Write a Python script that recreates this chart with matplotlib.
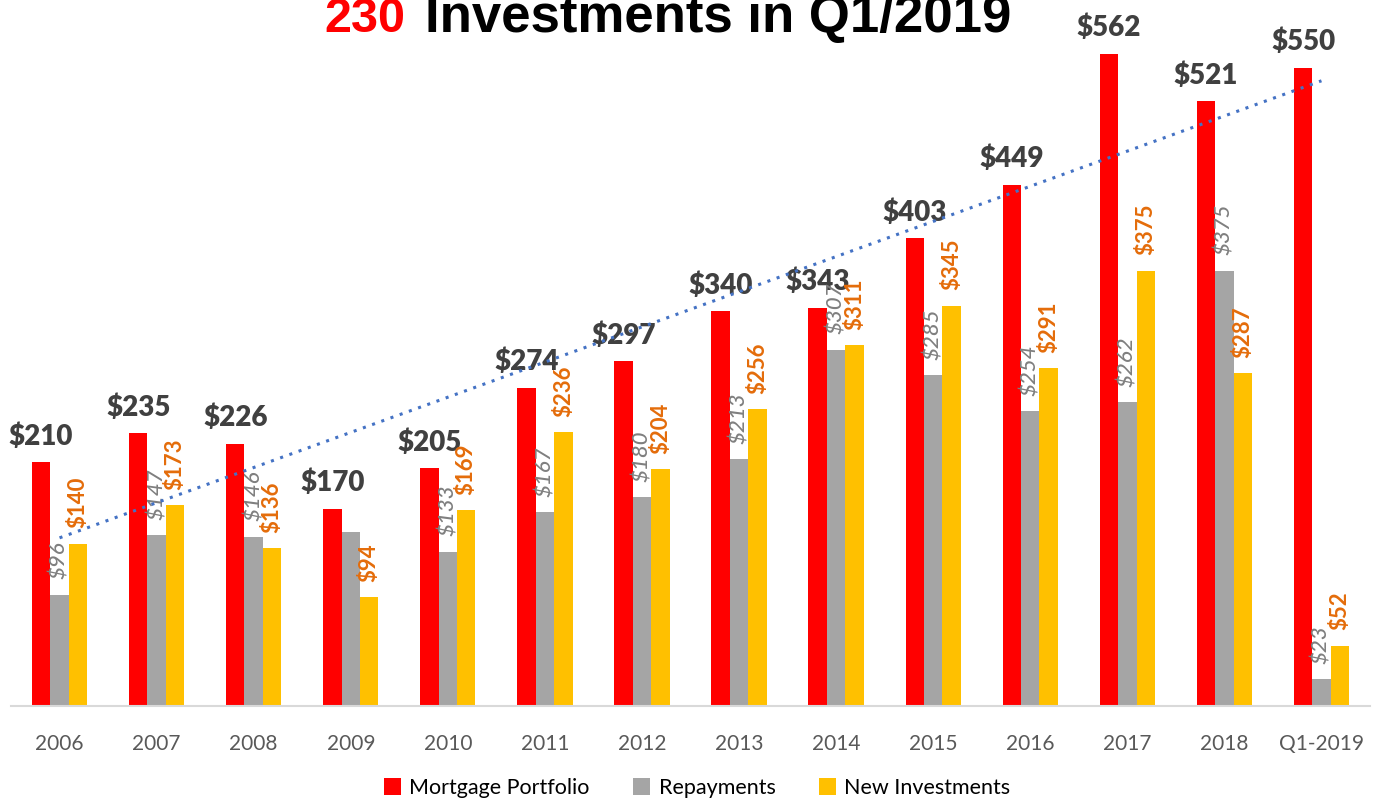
import numpy as np
import matplotlib
matplotlib.use('Agg')
import matplotlib.pyplot as plt

# dados
anos = ['2006', '2007', '2008', '2009', '2010', '2011', '2012', '2013',
        '2014', '2015', '2016', '2017', '2018', 'Q1-2019']
portfolio = [210, 235, 226, 170, 205, 274, 297, 340, 343, 403, 449, 562, 521, 550]
repayments = [96, 147, 146, 150, 133, 167, 180, 213, 307, 285, 254, 262, 375, 23]
novos = [140, 173, 136, 94, 169, 236, 204, 256, 311, 345, 291, 375, 287, 52]
# 2009 repayment label is not shown in the original
mostrar_rep = [True, True, True, False, True, True, True, True, True, True, True, True, True, True]

cor_vermelho = '#FF0000'
cor_cinza = '#A5A5A5'
cor_amarelo = '#FFC000'

fig = plt.figure(figsize=(13.88, 8.01), dpi=100)
ax = fig.add_axes([11 / 1388, (801 - 706) / 801, (1370 - 11) / 1388, 701 / 801])

x = np.arange(len(anos))
w = 0.19
b1 = ax.bar(x - w, portfolio, w, color=cor_vermelho, label='Mortgage Portfolio')
b2 = ax.bar(x, repayments, w, color=cor_cinza, label='Repayments')
b3 = ax.bar(x + w, novos, w, color=cor_amarelo, label='New Investments')

# linha de tendencia
coef = np.polyfit(x, portfolio, 1)
ax.plot(x, np.polyval(coef, x), linestyle=(0, (1, 2.2)), color='#4472C4',
        linewidth=2.2, zorder=5)

# rótulos
for xi, v in zip(x, portfolio):
    ax.annotate(f'${v}', (xi - w, v), xytext=(0, 9), textcoords='offset points',
                ha='center', va='bottom', fontsize=20, fontweight='heavy',
                color='#404040', family='Lato')
for xi, v, m in zip(x, repayments, mostrar_rep):
    if m:
        ax.annotate(f'${v}', (xi, v), xytext=(0, 11), textcoords='offset points',
                    ha='center', va='bottom', rotation=90, fontsize=16,
                    style='italic', fontweight='medium', color='#7F7F7F',
                    family='Lato')
for xi, v in zip(x, novos):
    ax.annotate(f'${v}', (xi + w, v), xytext=(0, 11), textcoords='offset points',
                ha='center', va='bottom', rotation=90, fontsize=16,
                fontweight='bold', color='#E46C0A', family='Lato')

ax.set_xlim(-0.5, len(anos) - 0.5)
ax.set_ylim(0, 604)
ax.set_xticks(x)
ax.set_xticklabels(anos, fontsize=15, color='#595959', family='Lato')
ax.tick_params(axis='x', length=0, pad=20)
ax.set_yticks([])
for s in ['top', 'right', 'left']:
    ax.spines[s].set_visible(False)
ax.spines['bottom'].set_color('#D9D9D9')
ax.spines['bottom'].set_linewidth(1.5)

# título (cortado no topo como no original)
fig.text(324 / 1388, 1 - 32 / 801, '230', color='#FF0000', fontsize=35,
         fontweight='bold', family='Liberation Sans', va='baseline', ha='left')
fig.text(425 / 1388, 1 - 32 / 801, 'Investments in Q1/2019', color='black',
         fontsize=38, fontweight='bold', family='Liberation Sans',
         va='baseline', ha='left')

fig.legend(handles=[b1, b2, b3], loc='center', bbox_to_anchor=(697 / 1388, 1 - 788 / 801),
           ncol=3, frameon=False, handlelength=0.8, handleheight=0.8,
           handletextpad=0.4, columnspacing=2.0,
           prop={'family': 'Lato', 'size': 15.5})

fig.savefig('out.png', dpi=100)
